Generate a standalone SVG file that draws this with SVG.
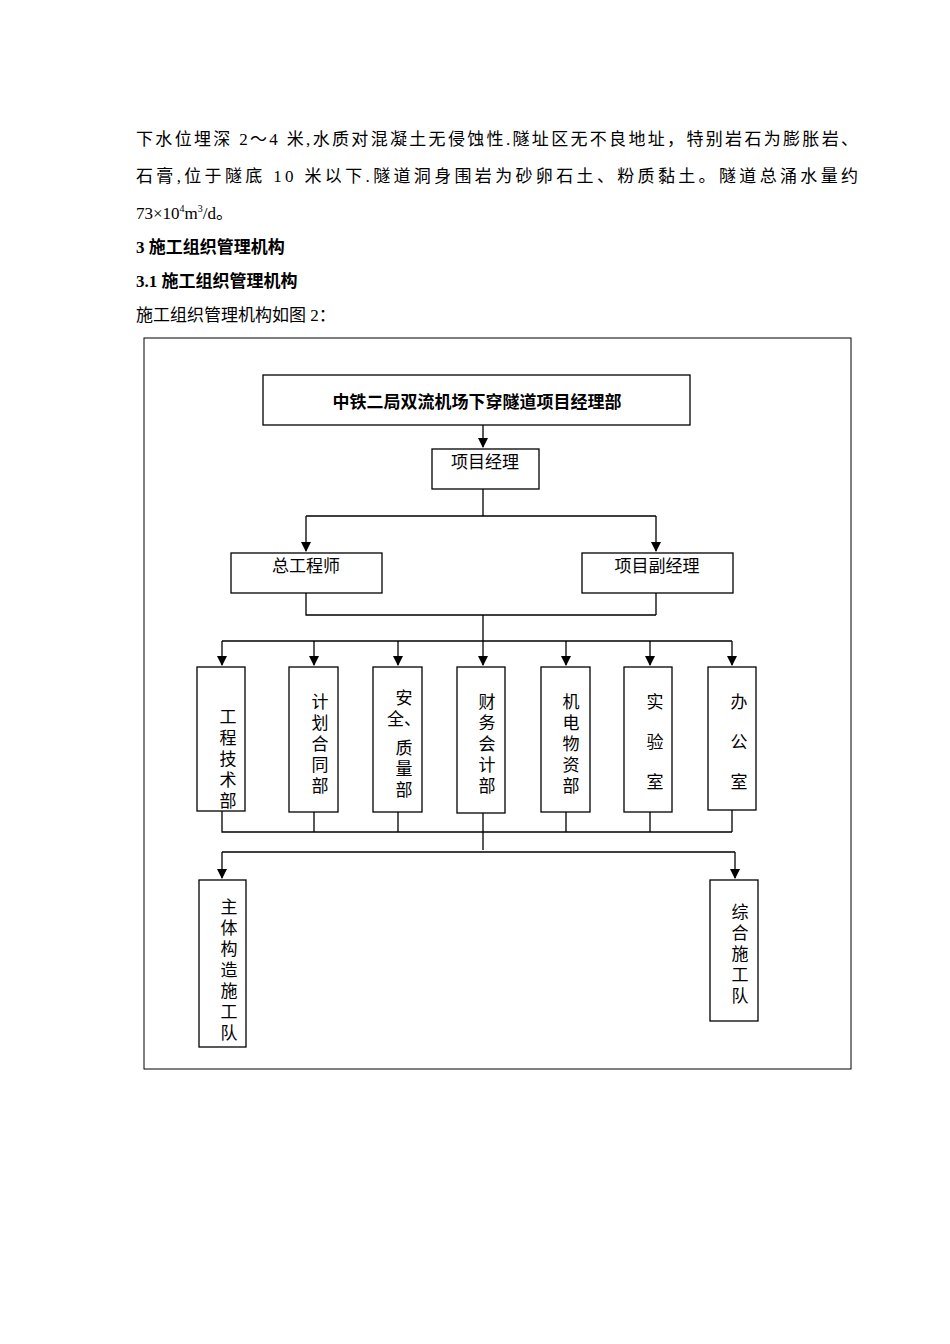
<svg xmlns="http://www.w3.org/2000/svg" width="950" height="1344" viewBox="0 0 950 1344">
<style>
.t{font-family:"Liberation Serif","Noto Sans CJK SC",serif;font-size:17px;fill:#000}
.b{font-weight:bold}
.n{fill:#fff;stroke:#000;stroke-width:1.3}
.l{fill:#000;font-family:"Liberation Serif","Noto Sans CJK SC",serif;font-size:17px;text-anchor:middle}
.c{stroke:#000;stroke-width:1.3;fill:none}
</style>
<defs><marker id="a" markerWidth="10" markerHeight="10" refX="5" refY="9" orient="auto" markerUnits="userSpaceOnUse" viewBox="0 0 10 10"><path d="M0,0L10,0L5,10z" fill="#000" transform="rotate(0)"/></marker>
<marker id="ad" markerWidth="10" markerHeight="10" refX="9" refY="5" orient="auto" markerUnits="userSpaceOnUse" viewBox="0 0 10 10"><path d="M0,0L10,5L0,10z" fill="#000"/></marker></defs>
<rect width="950" height="1344" fill="#fff"/>
<text class="t" x="136" y="145" textLength="722" lengthAdjust="spacing">下水位埋深 2～4 米,水质对混凝土无侵蚀性.隧址区无不良地址，特别岩石为膨胀岩、</text>
<text class="t" x="136" y="182" textLength="722" lengthAdjust="spacing">石膏,位于隧底 10 米以下.隧道洞身围岩为砂卵石土、粉质黏土。隧道总涌水量约</text>
<text class="t" x="136" y="219">73×10<tspan font-size="10" dy="-7">4</tspan><tspan dy="7">m</tspan><tspan font-size="10" dy="-7">3</tspan><tspan dy="7">/d。</tspan></text>
<text class="t b" x="136" y="253">3 施工组织管理机构</text>
<text class="t b" x="136" y="287">3.1 施工组织管理机构</text>
<text class="t" x="136" y="321">施工组织管理机构如图 2：</text>
<rect x="144" y="338" width="707" height="731" fill="none" stroke="#000" stroke-width="1"/>
<g id="connectors">
<path class="c" d="M483 425V447" marker-end="url(#ad)"/>
<path class="c" d="M483 489V516M306 516H656"/>
<path class="c" d="M306 516V551" marker-end="url(#ad)"/>
<path class="c" d="M656 516V551" marker-end="url(#ad)"/>
<path class="c" d="M306 593V615H656M656 593V615M483 615V641M222 641H732"/>
<path class="c" d="M222 641V665" marker-end="url(#ad)"/>
<path class="c" d="M314 641V665" marker-end="url(#ad)"/>
<path class="c" d="M398 641V665" marker-end="url(#ad)"/>
<path class="c" d="M483 641V665" marker-end="url(#ad)"/>
<path class="c" d="M566 641V665" marker-end="url(#ad)"/>
<path class="c" d="M650 641V665" marker-end="url(#ad)"/>
<path class="c" d="M732 641V665" marker-end="url(#ad)"/>
<path class="c" d="M222 811V832H732M314 812V832M398 812V832M483 813V832M566 812V832M650 812V832M732 810V832M483 832V850M222 852H735"/>
<path class="c" d="M222 852V878" marker-end="url(#ad)"/>
<path class="c" d="M735 852V878" marker-end="url(#ad)"/>
</g>
<g id="n0"><rect class="n" x="263" y="375" width="427" height="50"/><text class="l b" x="477" y="408">中铁二局双流机场下穿隧道项目经理部</text></g>
<g id="n1"><rect class="n" x="432" y="449" width="107" height="40"/><text class="l" x="485" y="468">项目经理</text></g>
<g id="n2"><rect class="n" x="231" y="553" width="151" height="40"/><text class="l" x="306" y="572">总工程师</text></g>
<g id="n3"><rect class="n" x="582" y="553" width="151" height="40"/><text class="l" x="657" y="572">项目副经理</text></g>
<g id="n4"><rect class="n" x="197" y="667" width="48" height="144"/><text class="l" x="228"><tspan x="228" y="723">工</tspan><tspan x="228" y="744">程</tspan><tspan x="228" y="765">技</tspan><tspan x="228" y="786">术</tspan><tspan x="228" y="807">部</tspan></text></g>
<g id="n5"><rect class="n" x="289" y="667" width="49" height="145"/><text class="l"><tspan x="320" y="708">计</tspan><tspan x="320" y="729">划</tspan><tspan x="320" y="750">合</tspan><tspan x="320" y="771">同</tspan><tspan x="320" y="792">部</tspan></text></g>
<g id="n6"><rect class="n" x="373" y="667" width="49" height="145"/><text class="l"><tspan x="404" y="704">安</tspan><tspan x="404" y="725">全、</tspan><tspan x="404" y="754">质</tspan><tspan x="404" y="775">量</tspan><tspan x="404" y="796">部</tspan></text></g>
<g id="n7"><rect class="n" x="457" y="667" width="48" height="146"/><text class="l"><tspan x="487" y="708">财</tspan><tspan x="487" y="729">务</tspan><tspan x="487" y="750">会</tspan><tspan x="487" y="771">计</tspan><tspan x="487" y="792">部</tspan></text></g>
<g id="n8"><rect class="n" x="541" y="667" width="49" height="145"/><text class="l"><tspan x="571" y="708">机</tspan><tspan x="571" y="729">电</tspan><tspan x="571" y="750">物</tspan><tspan x="571" y="771">资</tspan><tspan x="571" y="792">部</tspan></text></g>
<g id="n9"><rect class="n" x="624" y="667" width="48" height="145"/><text class="l"><tspan x="655" y="708">实</tspan><tspan x="655" y="748">验</tspan><tspan x="655" y="788">室</tspan></text></g>
<g id="n10"><rect class="n" x="708" y="667" width="48" height="143"/><text class="l"><tspan x="739" y="708">办</tspan><tspan x="739" y="748">公</tspan><tspan x="739" y="788">室</tspan></text></g>
<g id="n11"><rect class="n" x="199" y="880" width="47" height="167"/><text class="l"><tspan x="229" y="913">主</tspan><tspan x="229" y="934">体</tspan><tspan x="229" y="955">构</tspan><tspan x="229" y="976">造</tspan><tspan x="229" y="997">施</tspan><tspan x="229" y="1018">工</tspan><tspan x="229" y="1039">队</tspan></text></g>
<g id="n12"><rect class="n" x="710" y="880" width="48" height="141"/><text class="l"><tspan x="740" y="918">综</tspan><tspan x="740" y="939">合</tspan><tspan x="740" y="960">施</tspan><tspan x="740" y="981">工</tspan><tspan x="740" y="1002">队</tspan></text></g>
</svg>
